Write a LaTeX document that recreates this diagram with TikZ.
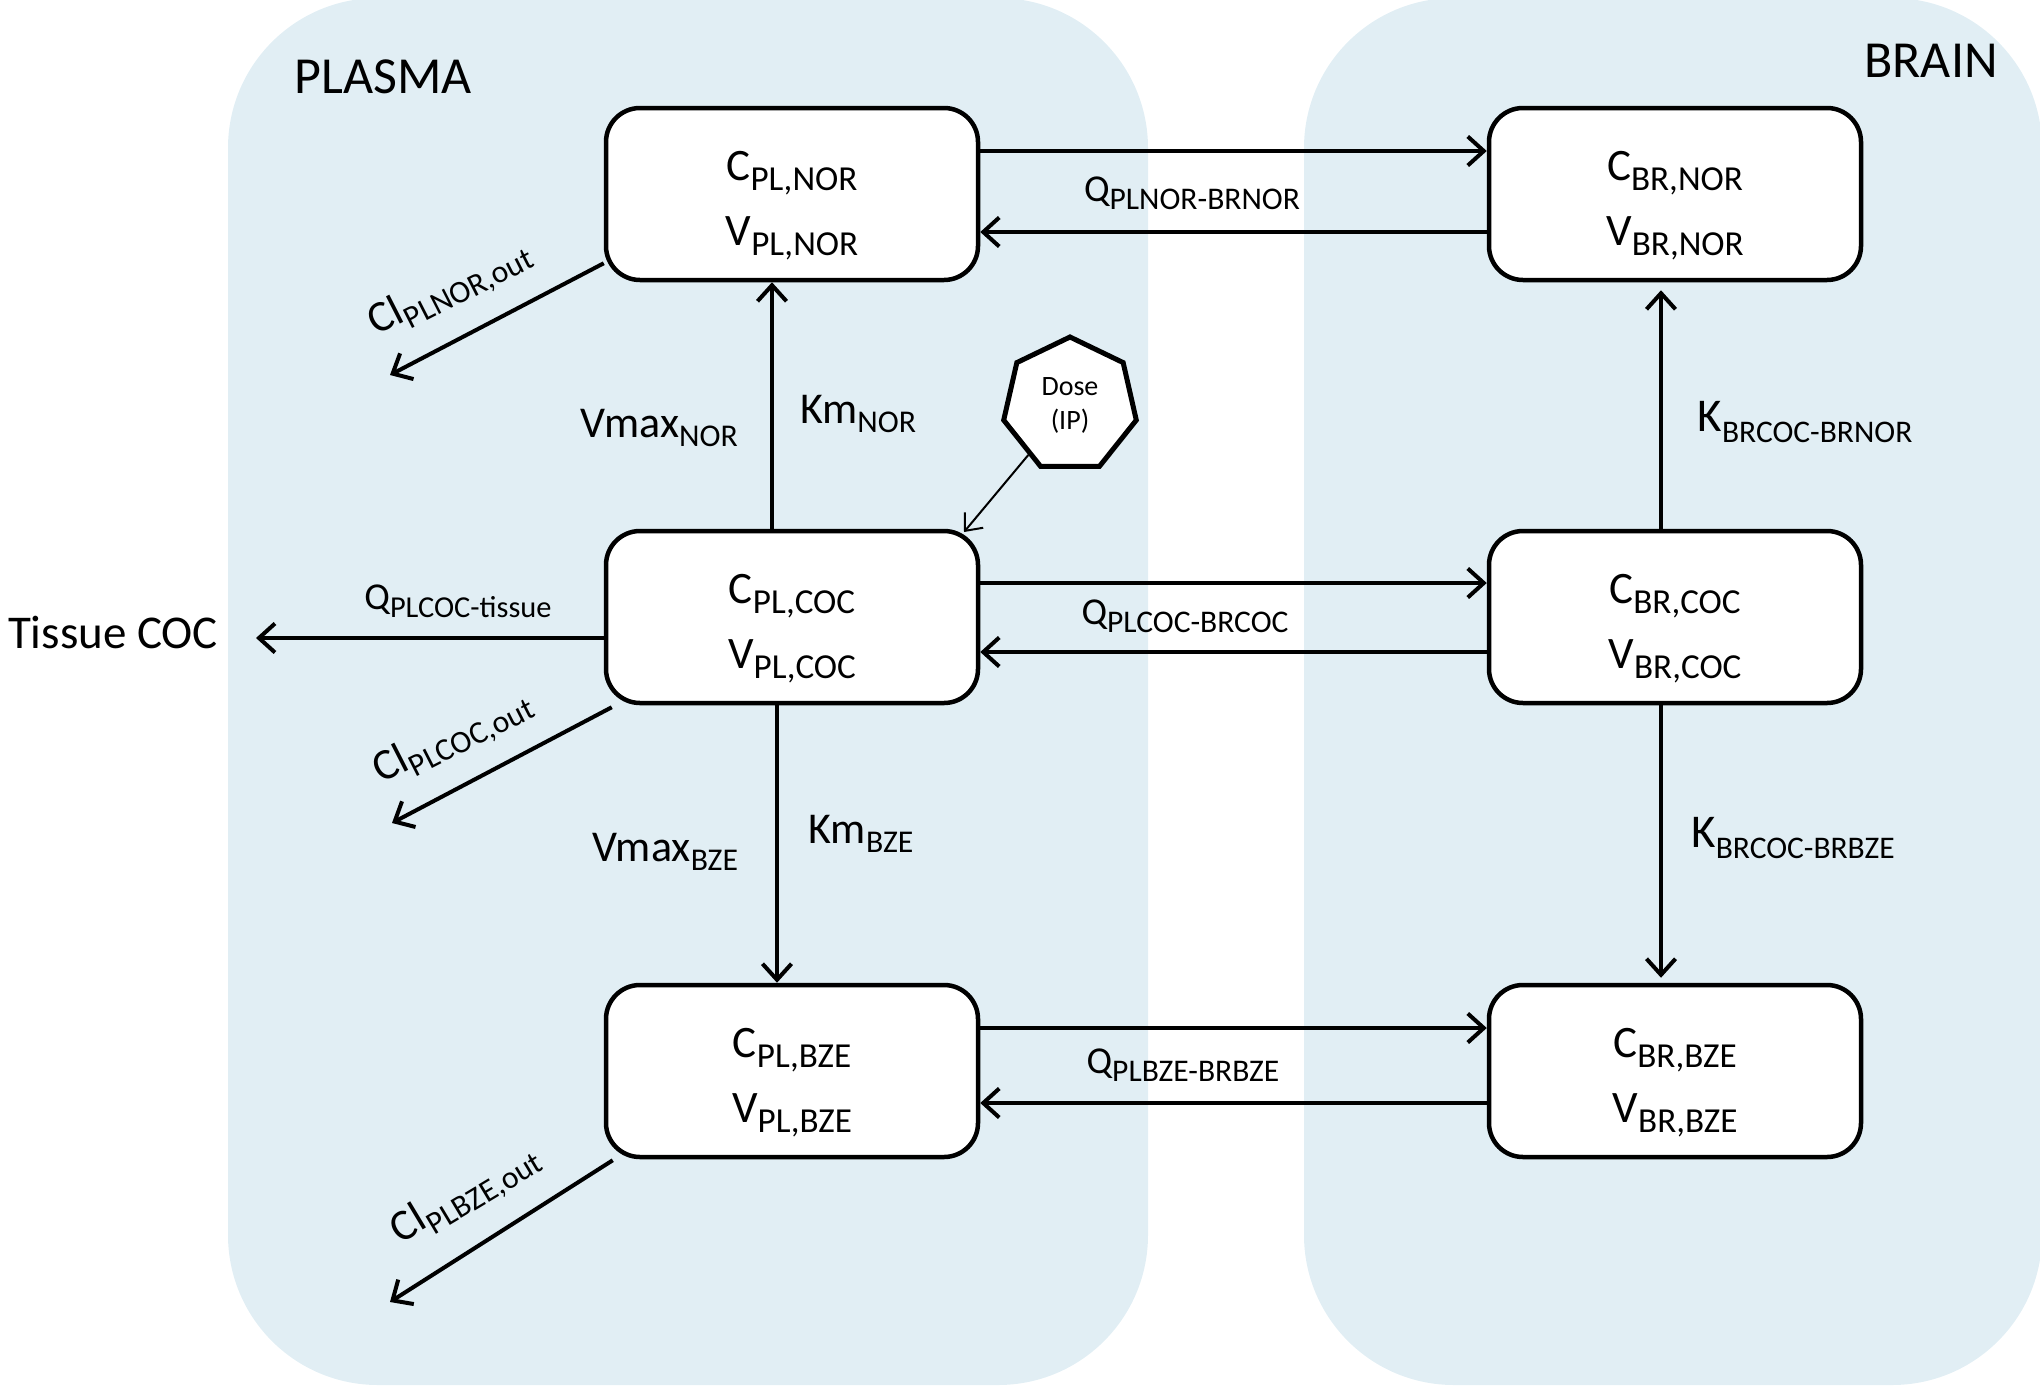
\documentclass[tikz,border=0pt]{standalone}
\usepackage{fontspec}
\setmainfont{Carlito}
\usetikzlibrary{arrows.meta,shapes.geometric,calc}
\definecolor{panelc}{HTML}{E1EEF4}
\newcommand\sbs[2][0.72]{\raisebox{-0.22em}{\scalebox{#1}{#2}}}
\newcommand\cvtext[1]{\rule{0pt}{53pt}C\sbs[0.78]{#1}\\V\sbs[0.78]{#1}}
\begin{document}
\begin{tikzpicture}[x=1pt,y=-1pt,
  cbox/.style={draw, line width=4.5pt, rounded corners=34pt, fill=white,
    minimum width=372pt, minimum height=172pt, align=center, inner sep=0pt,
    font=\fontsize{45}{65}\selectfont},
  arr/.style={line width=4pt, -{Straight Barb[length=16pt,width=29pt]}},
  darr/.style={line width=2pt, -{Straight Barb[length=14pt,width=24pt]}},
  qlab/.style={inner sep=0pt, font=\fontsize{38}{40}\selectfont},
  vlab/.style={inner sep=0pt, font=\fontsize{44}{46}\selectfont},
  klab/.style={inner sep=0pt, font=\fontsize{47}{50}\selectfont},
  cllab/.style={inner sep=0pt, font=\fontsize{44}{46}\selectfont},
  title/.style={inner sep=0pt, font=\fontsize{52}{54}\selectfont},
]
\useasboundingbox (0,0) rectangle (2040,1387);
% panels
\fill[panelc, rounded corners=150pt] (228,-2) rectangle (1148,1385);
\fill[panelc, rounded corners=150pt] (1304,-2) rectangle (2042,1385);
\node[title] (plasma) at (383,77) {PLASMA};
\node[title] (brain) at (1931,61) {BRAIN};

% compartments
\node[cbox] (plnor) at (792,194) {\cvtext{PL,NOR}};
\node[cbox] (brnor) at (1675,194) {\cvtext{BR,NOR}};
\node[cbox] (plcoc) at (792,617) {\cvtext{PL,COC}};
\node[cbox] (brcoc) at (1675,617) {\cvtext{BR,COC}};
\node[cbox] (plbze) at (792,1071) {\cvtext{PL,BZE}};
\node[cbox] (brbze) at (1675,1071) {\cvtext{BR,BZE}};

% dose
\node[regular polygon, regular polygon sides=7, draw, line width=5pt, fill=white,
  minimum size=136pt, inner sep=0pt, align=center,
  font=\fontsize{28}{34}\selectfont] (dose) at (1070,405) {Dose\\(IP)};
\coordinate (dosetip) at (964,532);
\draw[darr] (dose) -- (dosetip);

% plasma <-> brain exchanges
\draw[arr] ($(plnor.east)+(0,-43)$) -- ($(brnor.west)+(0,-43)$);
\draw[arr] ($(brnor.west)+(0,38)$) -- ($(plnor.east)+(0,38)$);
\node[qlab] (qnor) at (1192,193) {Q\sbs[0.83]{PLNOR-BRNOR}};

\draw[arr] ($(plcoc.east)+(0,-34)$) -- ($(brcoc.west)+(0,-34)$);
\draw[arr] ($(brcoc.west)+(0,35)$) -- ($(plcoc.east)+(0,35)$);
\node[qlab] (qcoc) at (1185,616) {Q\sbs[0.83]{PLCOC-BRCOC}};

\draw[arr] ($(plbze.east)+(0,-43)$) -- ($(brbze.west)+(0,-43)$);
\draw[arr] ($(brbze.west)+(0,32)$) -- ($(plbze.east)+(0,32)$);
\node[qlab] (qbze) at (1183,1065) {Q\sbs[0.83]{PLBZE-BRBZE}};

% metabolism in plasma
\draw[arr] ($(plcoc.north)+(-20,0)$) -- ($(plnor.south)+(-20,0)$);
\node[vlab] (vmaxnor) at (659,428) {Vmax\sbs{NOR}};
\node[vlab] (kmnor) at (858,414) {Km\sbs{NOR}};
\draw[arr] ($(plcoc.south)+(-15,0)$) -- ($(plbze.north)+(-15,0)$);
\node[vlab] (vmaxbze) at (665,852) {Vmax\sbs{BZE}};
\node[vlab] (kmbze) at (861,834) {Km\sbs{BZE}};

% metabolism in brain
\draw[arr] ($(brcoc.north)+(-14,0)$) -- ($(brnor.south)+(-14,8)$);
\node[klab] (kbrnor) at (1805,422) {K\sbs[0.67]{BRCOC-BRNOR}};
\draw[arr] ($(brcoc.south)+(-14,0)$) -- ($(brbze.north)+(-14,-5)$);
\node[klab] (kbrbze) at (1793,838) {K\sbs[0.67]{BRCOC-BRBZE}};

% tissue
\node[font=\fontsize{47}{50}\selectfont, inner sep=0pt] (tissue) at (113,632) {Tissue COC};
\coordinate (tissuetip) at (256,638);
\draw[arr] ($(plcoc.west)+(0,21)$) -- (tissuetip);
\node[qlab] (qtis) at (458,601) {Q\sbs[0.8]{PLCOC-tissue}};

% clearances
\coordinate (clnortip) at (390,375);
\draw[arr] ($(plnor.south west)+(0,-19)$) -- (clnortip);
\node[cllab, rotate=27] (clnor) at (450,289) {Cl\sbs[0.72]{PLNOR,out}};
\coordinate (clcoctip) at (392,823);
\draw[arr] ($(plcoc.south west)+(8,2)$) -- (clcoctip);
\node[cllab, rotate=27] (clcoc) at (453,738) {Cl\sbs[0.72]{PLCOC,out}};
\coordinate (clbzetip) at (390,1302);
\draw[arr] ($(plbze.south west)+(9,1)$) -- (clbzetip);
\node[cllab, rotate=31] (clbze) at (466,1195) {Cl\sbs[0.72]{PLBZE,out}};
\end{tikzpicture}
\end{document}
